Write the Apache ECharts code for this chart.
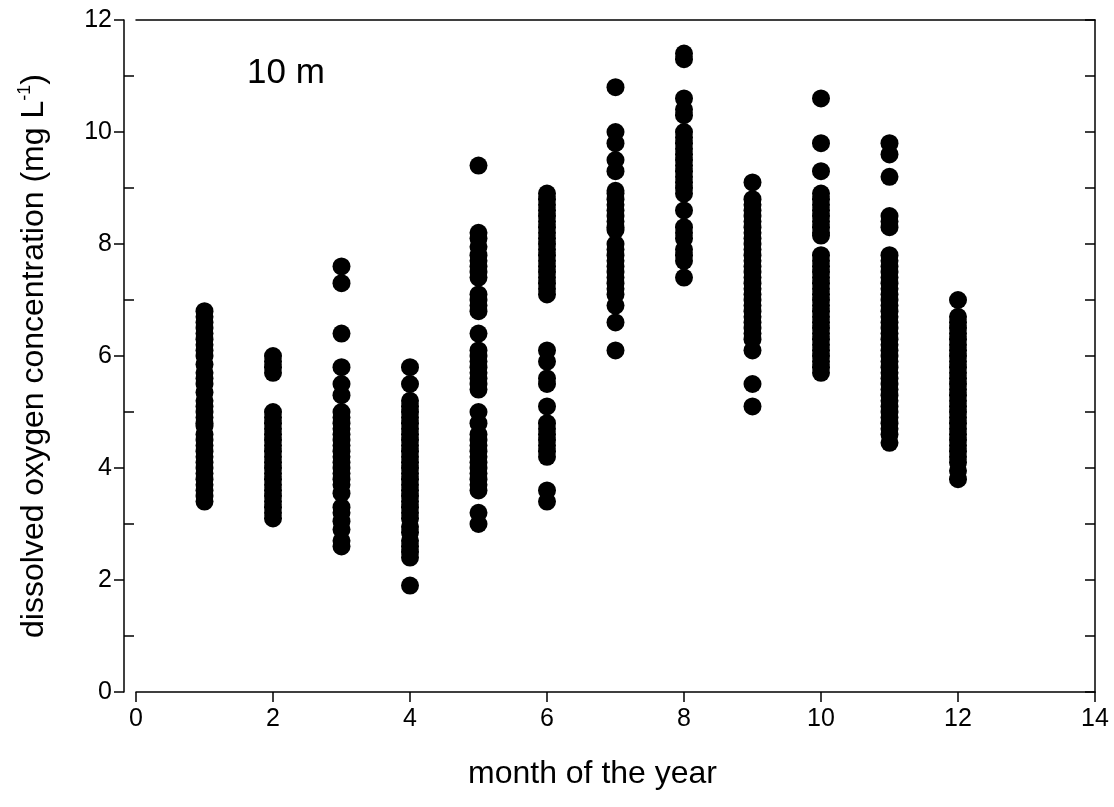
<!DOCTYPE html>
<html>
<head>
<meta charset="utf-8">
<script src="https://cdn.jsdelivr.net/npm/echarts@6/dist/echarts.min.js"></script>
<style>
  html, body { margin: 0; padding: 0; background: #fff; }
  #chart { width: 1114px; height: 807px; }
</style>
</head>
<body>
<div id="chart"></div>
<script>
// ---- data ----
const months = [1, 2, 3, 4, 5, 6, 7, 8, 9, 10, 11, 12];
const m1 = [6.8, 6.7, 6.6, 6.5, 6.4, 6.3, 6.2, 6.1, 6.0, 5.85, 5.7, 5.6, 5.5, 5.35, 5.2, 5.1, 5.0, 4.9, 4.8, 4.75, 4.6, 4.5, 4.4, 4.3, 4.2, 4.1, 4.0, 3.9, 3.8, 3.7, 3.6, 3.5, 3.4];
const m2 = [6.0, 5.9, 5.8, 5.7, 5.0, 4.9, 4.8, 4.7, 4.6, 4.5, 4.4, 4.3, 4.2, 4.1, 4.0, 3.9, 3.8, 3.7, 3.6, 3.5, 3.4, 3.3, 3.2, 3.1];
const m3 = [7.6, 7.3, 6.4, 5.8, 5.5, 5.3, 5.0, 4.9, 4.8, 4.7, 4.6, 4.5, 4.4, 4.3, 4.2, 4.1, 4.0, 3.9, 3.8, 3.7, 3.55, 3.3, 3.2, 3.05, 2.9, 2.7, 2.6];
const m4 = [5.8, 5.5, 5.2, 5.1, 5.0, 4.9, 4.8, 4.7, 4.6, 4.5, 4.4, 4.3, 4.2, 4.1, 4.0, 3.9, 3.8, 3.7, 3.6, 3.5, 3.4, 3.3, 3.2, 3.1, 2.95, 2.85, 2.7, 2.6, 2.5, 2.4, 1.9];
const m5 = [9.4, 8.2, 8.1, 7.95, 7.8, 7.7, 7.6, 7.5, 7.4, 7.1, 7.0, 6.9, 6.8, 6.4, 6.1, 6.0, 5.9, 5.8, 5.7, 5.6, 5.5, 5.4, 5.0, 4.8, 4.6, 4.5, 4.4, 4.3, 4.2, 4.1, 4.0, 3.9, 3.8, 3.7, 3.6, 3.2, 3.0];
const m6 = [8.9, 8.8, 8.7, 8.6, 8.5, 8.4, 8.3, 8.2, 8.1, 8.0, 7.9, 7.8, 7.7, 7.6, 7.5, 7.4, 7.3, 7.2, 7.1, 6.1, 5.9, 5.6, 5.5, 5.1, 4.8, 4.7, 4.6, 4.5, 4.4, 4.3, 4.2, 3.6, 3.4];
const m7 = [10.8, 10.0, 9.8, 9.5, 9.3, 8.95, 8.9, 8.8, 8.7, 8.6, 8.5, 8.4, 8.3, 8.25, 8.0, 7.9, 7.8, 7.7, 7.6, 7.5, 7.4, 7.3, 7.2, 7.1, 6.9, 6.6, 6.1];
const m8 = [11.4, 11.3, 10.6, 10.4, 10.3, 10.0, 9.9, 9.8, 9.7, 9.6, 9.5, 9.4, 9.3, 9.2, 9.1, 9.0, 8.9, 8.6, 8.3, 8.2, 8.1, 7.9, 7.8, 7.7, 7.4];
const m9 = [9.1, 8.8, 8.7, 8.6, 8.5, 8.4, 8.3, 8.2, 8.1, 8.0, 7.9, 7.8, 7.7, 7.6, 7.5, 7.4, 7.3, 7.2, 7.1, 7.0, 6.9, 6.8, 6.7, 6.6, 6.5, 6.4, 6.3, 6.1, 5.5, 5.1];
const m10 = [10.6, 9.8, 9.3, 8.9, 8.8, 8.7, 8.6, 8.5, 8.4, 8.3, 8.2, 8.15, 7.8, 7.7, 7.6, 7.5, 7.4, 7.3, 7.2, 7.1, 7.0, 6.9, 6.8, 6.7, 6.6, 6.5, 6.4, 6.3, 6.2, 6.1, 6.0, 5.9, 5.8, 5.7];
const m11 = [9.8, 9.6, 9.2, 8.5, 8.4, 8.3, 7.8, 7.7, 7.6, 7.5, 7.4, 7.3, 7.2, 7.1, 7.0, 6.9, 6.8, 6.7, 6.6, 6.5, 6.4, 6.3, 6.2, 6.1, 6.0, 5.9, 5.8, 5.7, 5.6, 5.5, 5.4, 5.3, 5.2, 5.1, 5.0, 4.9, 4.8, 4.7, 4.6, 4.45];
const m12 = [7.0, 6.7, 6.6, 6.5, 6.4, 6.3, 6.2, 6.1, 6.0, 5.9, 5.8, 5.7, 5.6, 5.5, 5.4, 5.3, 5.2, 5.1, 5.0, 4.9, 4.8, 4.7, 4.6, 4.5, 4.4, 4.3, 4.2, 4.1, 3.95, 3.8];
const monthValues = [m1, m2, m3, m4, m5, m6, m7, m8, m9, m10, m11, m12];
const xTicks = [0, 2, 4, 6, 8, 10, 12, 14];
const yTicks = [0, 2, 4, 6, 8, 10, 12];
const panelLabel = '10 m';
const xTitle = 'month of the year';
const yTitleMain = 'dissolved oxygen concentration (mg L';
const yTitleSup = '-1';

// ---- build series data ----
const points = [];
months.forEach((m, i) => monthValues[i].forEach(v => points.push([m, v])));

const FONT = '"Liberation Sans", Arial, Helvetica, sans-serif';
const lineStyle = { color: '#000', width: 1.5 };

const chart = echarts.init(document.getElementById('chart'), null, { renderer: 'canvas' });
chart.setOption({
  animation: false,
  backgroundColor: '#fff',
  title: {
    text: panelLabel,
    left: 247, top: 56, padding: 0,
    textStyle: { fontSize: 35, fontWeight: 'normal', color: '#000', fontFamily: FONT }
  },
  grid: { left: 136, right: 19, top: 20, bottom: 115 },
  xAxis: [
    {
      type: 'value', position: 'bottom',
      min: xTicks[0], max: xTicks[xTicks.length - 1], interval: 2,
      axisLine: { show: true, onZero: false, lineStyle },
      axisTick: { show: true, inside: false, length: 10, lineStyle },
      axisLabel: { fontSize: 25, color: '#000', fontFamily: FONT, margin: 15 },
      splitLine: { show: false },
      name: xTitle, nameLocation: 'middle', nameGap: 66,
      nameTextStyle: { fontSize: 32, color: '#000', fontFamily: FONT, padding: [0, 46, 0, 0] }
    },
    {
      type: 'value', position: 'top',
      min: xTicks[0], max: xTicks[xTicks.length - 1],
      axisLine: { show: true, onZero: false, lineStyle },
      axisTick: { show: false }, axisLabel: { show: false }, splitLine: { show: false }
    }
  ],
  yAxis: [
    {
      type: 'value', position: 'left', offset: 12,
      min: yTicks[0], max: yTicks[yTicks.length - 1], interval: 2,
      axisLine: { show: true, onZero: false, lineStyle },
      axisTick: { show: true, inside: false, length: 10, lineStyle },
      minorTick: { show: true, splitNumber: 2, length: -10, lineStyle },
      axisLabel: { fontSize: 25, color: '#000', fontFamily: FONT, margin: 12 },
      splitLine: { show: false },
      name: '{n|' + yTitleMain + '}{s|' + yTitleSup + '}{n|)}',
      nameLocation: 'middle', nameGap: 72, nameRotate: 90,
      nameTextStyle: {
        color: '#000', fontFamily: FONT, fontSize: 32,
        rich: {
          n: { fontSize: 32, fontFamily: FONT, color: '#000', lineHeight: 36, verticalAlign: 'middle' },
          s: { fontSize: 18, fontFamily: FONT, color: '#000', lineHeight: 22, verticalAlign: 'top' }
        }
      }
    },
    {
      type: 'value', position: 'right',
      min: yTicks[0], max: yTicks[yTicks.length - 1], interval: 1,
      axisLine: { show: true, onZero: false, lineStyle },
      axisTick: { show: true, inside: true, length: 10, lineStyle },
      axisLabel: { show: false }, splitLine: { show: false }
    }
  ],
  series: [{
    type: 'scatter',
    xAxisIndex: 0, yAxisIndex: 0,
    data: points,
    symbol: 'circle', symbolSize: 18,
    itemStyle: { color: '#000', opacity: 1 },
    emphasis: { disabled: true }
  }]
});
</script>
</body>
</html>
